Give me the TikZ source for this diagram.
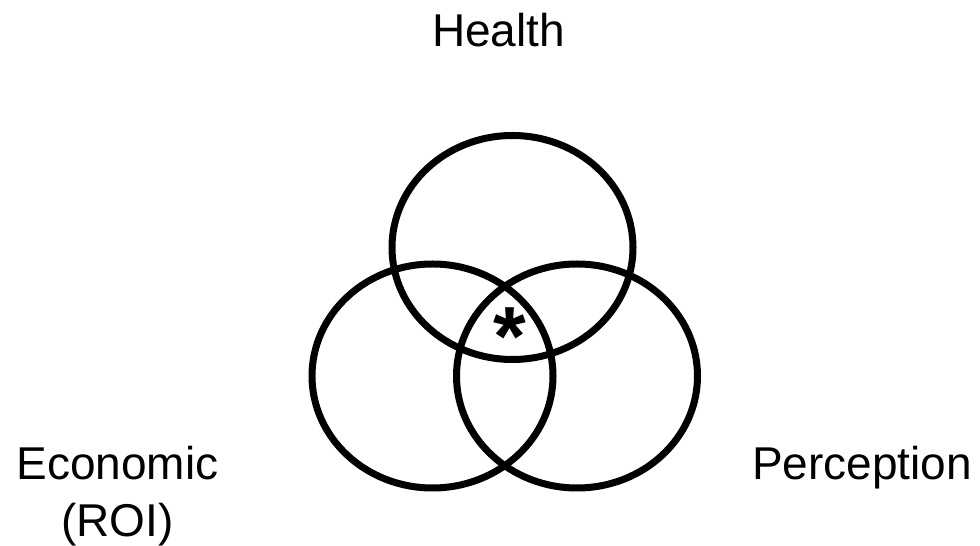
\documentclass[tikz,border=0pt]{standalone}
\usepackage{fontspec}
\setmainfont{Liberation Sans}
\usetikzlibrary{shapes.geometric}
\tikzset{
  setring/.style={draw, ellipse, line width=7pt, inner sep=0pt, minimum width=241pt, minimum height=224pt},
  setlabel/.style={font=\fontsize{46}{57}\selectfont, inner sep=0pt, align=center}
}
\begin{document}
\begin{tikzpicture}[x=1pt, y=1pt]
\useasboundingbox (0,0) rectangle (980,546);
\node[setring] (health) at (512.5,298.5) {};
\node[setring] (economic) at (432.5,170) {};
\node[setring] (perception) at (577,170) {};
\node[setlabel, anchor=base] (healthlabel) at (498.5,499) {Health};
\node[setlabel, anchor=base] (economiclabel) at (117.5,9) {Economic\\(ROI)};
\node[setlabel, anchor=base west] (perceptionlabel) at (752,66) {Perception};
\node[inner sep=0pt, font=\fontsize{84}{84}\selectfont\bfseries] (core) at (509.5,209) {*};
\end{tikzpicture}
\end{document}
